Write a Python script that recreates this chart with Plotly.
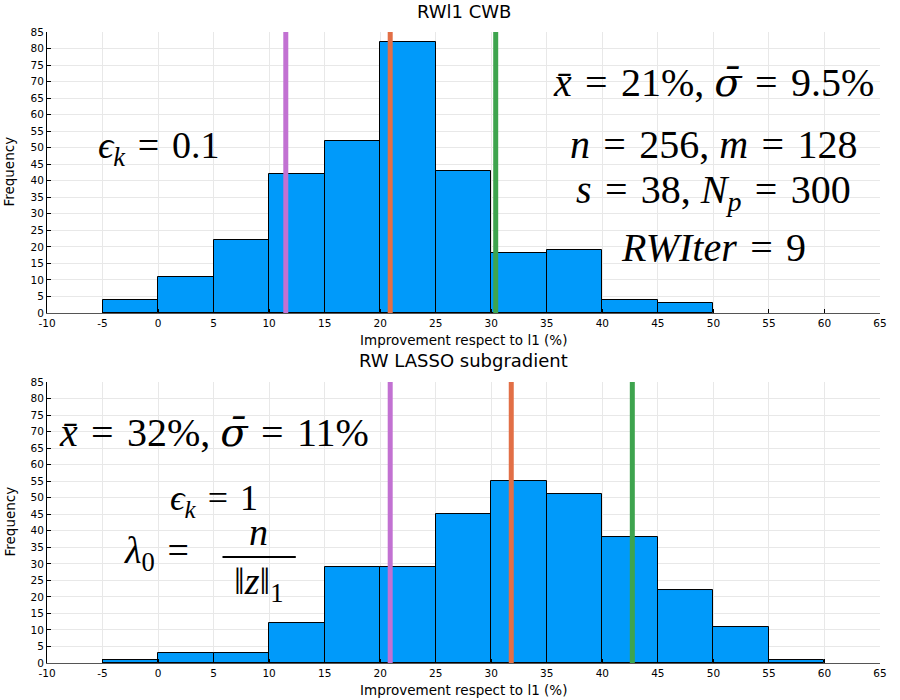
import plotly.graph_objects as go
from plotly.subplots import make_subplots

# ── data ─────────────────────────────────────────────────────────────────────
bin_edges = [-5, 0, 5, 10, 15, 20, 25, 30, 35, 40, 45, 50, 55, 60]
top_counts = [4, 11, 22, 42, 52, 82, 43, 18, 19, 4, 3]
bot_counts = [1, 3, 3, 12, 29, 29, 45, 55, 51, 38, 22, 11, 1]

# mean - sigma, mean, mean + sigma
top_lines = [11.5, 20.9, 30.4]
bot_lines = [20.9, 31.8, 42.7]

x_ticks = list(range(-10, 70, 5))
y_ticks = list(range(0, 90, 5))

BAR = "#009AFA"
LINE_COLORS = ["#C271D2", "#E26F46", "#3EA44E"]
SANS = "DejaVu Sans"
SERIF = "Liberation Serif"

centers = [(a + b) / 2 for a, b in zip(bin_edges[:-1], bin_edges[1:])]

fig = make_subplots(rows=2, cols=1, vertical_spacing=0.11)

for row, counts, lines in [(1, top_counts, top_lines), (2, bot_counts, bot_lines)]:
    fig.add_trace(go.Bar(
        x=centers[:len(counts)], y=counts, width=5,
        marker=dict(color=BAR, line=dict(color="black", width=1)),
        showlegend=False,
    ), row=row, col=1)
    for xv, col in zip(lines, LINE_COLORS):
        fig.add_trace(go.Scatter(
            x=[xv, xv], y=[0, 85], mode="lines",
            line=dict(color=col, width=5), showlegend=False,
        ), row=row, col=1)

axis_common = dict(
    showgrid=True, gridcolor="#e8e8e8", gridwidth=1,
    ticks="inside", ticklen=4, tickcolor="black",
    tickfont=dict(family=SANS, size=10.5, color="black"),
    zeroline=False, showline=True, linewidth=1, automargin=False,
)
for r in (1, 2):
    fig.update_xaxes(range=[-10, 65], tickvals=x_ticks,
                     ticktext=[str(v) for v in x_ticks], linecolor="#555",
                     **axis_common, row=r, col=1)
    fig.update_yaxes(range=[0, 85], tickvals=y_ticks,
                     ticktext=[str(v) for v in y_ticks], linecolor="black",
                     **axis_common, row=r, col=1)

fig.update_layout(
    width=900, height=700,
    margin=dict(l=47, r=20, t=32, b=37),
    plot_bgcolor="white", paper_bgcolor="white",
    bargap=0,
    yaxis=dict(domain=[0.5547, 1.0]),
    yaxis2=dict(domain=[0.0, 0.4453]),
)

# ── titles / axis labels ────────────────────────────────────────────────────
def paper_note(text, x, y, size, angle=0):
    fig.add_annotation(text=text, x=x, y=y, xref="paper", yref="paper",
                       xanchor="center", yanchor="middle",
                       showarrow=False, textangle=angle,
                       font=dict(family=SANS, size=size, color="black"))

paper_note("RWl1 CWB", 0.5, 1.032, 18)
paper_note("RW LASSO subgradient", 0.5, 0.479, 18)
paper_note("Improvement respect to l1 (%)", 0.5, 0.512, 13.5)
paper_note("Improvement respect to l1 (%)", 0.5, -0.043, 13.5)
paper_note("Frequency", -0.045, 0.778, 13.5, -90)
paper_note("Frequency", -0.045, 0.2235, 13.5, -90)

# ── math annotations ────────────────────────────────────────────────────────
def math(text, x, y, xr, yr, size=40):
    fig.add_annotation(text=text, x=x, y=y, xref=xr, yref=yr, showarrow=False,
                       xanchor="center", yanchor="middle",
                       font=dict(family=SERIF, size=size, color="black"))

EQ = " \u200a=\u200a "
SIG = '<span style="font-family:DejaVu Serif"><i>σ̄</i></span>'

math(f"<i>ϵ<sub>k</sub></i>{EQ}0.1", 0, 50, "x", "y", 38)
math(f"<i>x̄</i>{EQ}21%, {SIG}{EQ}9.5%", 50, 70, "x", "y")
math(f"<i>n</i>{EQ}256, <i>m</i>{EQ}128", 50, 51, "x", "y")
math(f"<i>s</i>{EQ}38, <i>N<sub>p</sub></i>{EQ}300", 50, 36.6, "x", "y")
math(f"<i>RWIter</i>{EQ}9", 50, 19.7, "x", "y")

math(f"<i>x̄</i>{EQ}32%, {SIG}{EQ}11%", 5, 70, "x2", "y2")
math(f"<i>ϵ<sub>k</sub></i>{EQ}1", 5, 49.3, "x2", "y2", 36)
math(f"<i>λ</i><sub>0</sub>{EQ}", 0.4, 33.3, "x2", "y2", 38)
math("<i>n</i>", 9.0, 39.6, "x2", "y2", 38)
math("‖<i>z</i>‖<sub>1</sub>", 9.0, 23.9, "x2", "y2", 38)
fig.add_shape(type="line", x0=5.8, x1=12.4, y0=32.1, y1=32.1,
              xref="x2", yref="y2", line=dict(color="black", width=2))

fig.write_html("out.html", config={"displayModeBar": False},
               post_script="document.body.style.margin='0px';")
